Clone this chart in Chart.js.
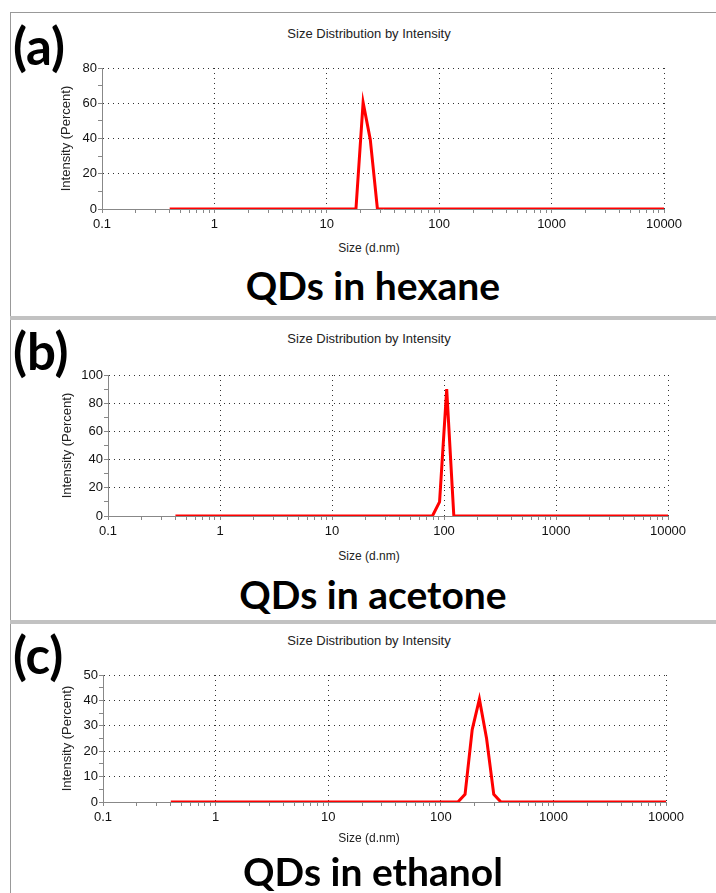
<!DOCTYPE html>
<html>
<head>
<meta charset="utf-8">
<script src="https://cdn.jsdelivr.net/npm/chart.js@4.4.0/dist/chart.umd.min.js"></script>
<style>
  body { margin: 0; background: #fff; width: 716px; height: 893px; position: relative; overflow: hidden;
         font-family: "Liberation Sans", Arial, sans-serif; color: #222; }
  .vline { position: absolute; left: 10px; top: 12px; width: 1px; height: 881px; background: #999; }
  .hline { position: absolute; left: 10px; top: 12px; width: 706px; height: 1px; background: #999; }
  .sep { position: absolute; left: 10px; width: 706px; height: 4px; background: #c2c2c2; }
  .tag { position: absolute; font-family: Lato, sans-serif; font-weight: bold; font-size: 51px; line-height: 1; color: #000; }
  .big { position: absolute; font-family: Lato, sans-serif; font-weight: bold; font-size: 39px; line-height: 1;
         transform: translate(-50%, -50%); white-space: nowrap; color: #000; }
  .small { position: absolute; font-size: 13px; line-height: 1; transform: translate(-50%, -50%); white-space: nowrap; color: #222; }
  .small.ax { font-size: 12px; }
  canvas { position: absolute; left: 0; }
</style>
</head>
<body>
<div class="hline"></div>
<div class="vline"></div>
<div class="sep" style="top:316px"></div>
<div class="sep" style="top:620px"></div>

<div class="tag" style="left:13px;top:20px">(a)</div>
<div class="small" style="left:369px;top:33px">Size Distribution by Intensity</div>
<canvas id="chartA" width="716" height="190" style="top:50px"></canvas>
<div class="small ax" style="left:369px;top:248px">Size (d.nm)</div>
<div class="big" style="left:373px;top:285px">QDs in hexane</div>

<div class="tag" style="left:13px;top:325px">(b)</div>
<div class="small" style="left:369px;top:338px">Size Distribution by Intensity</div>
<canvas id="chartB" width="716" height="190" style="top:355px"></canvas>
<div class="small ax" style="left:369px;top:556px">Size (d.nm)</div>
<div class="big" style="left:373px;top:594px">QDs in acetone</div>

<div class="tag" style="left:13px;top:629px">(c)</div>
<div class="small" style="left:369px;top:640px">Size Distribution by Intensity</div>
<canvas id="chartC" width="716" height="180" style="top:655px"></canvas>
<div class="small ax" style="left:369px;top:838px">Size (d.nm)</div>
<div class="big" style="left:373px;top:871px">QDs in ethanol</div>

<script>
// x tick labels (log axis) and minor tick multipliers
const X_TICKS = [0.1, 1, 10, 100, 1000, 10000];
const X_MINOR = [2, 3, 4, 5, 6, 7, 8, 9];

// (a) hexane
const sizesA = [0.4, 18.17, 21.04, 24.36, 28.21, 10000];
const intensityA = [0, 0, 60.5, 39.5, 0, 0];

// (b) acetone
const sizesB = [0.4, 78.82, 91.28, 105.7, 122.4, 10000];
const intensityB = [0, 0, 10, 90, 0, 0];

// (c) ethanol
const sizesC = [0.4, 141.8, 164.2, 190.1, 220.2, 255.0, 295.3, 342.0, 10000];
const intensityC = [0, 0, 3, 28.5, 40.5, 25, 3, 0, 0];

const FONT = '"Liberation Sans", Arial, sans-serif';

function makeChart(id, sizes, values, yMax, yStep, yLabelStep, g) {
  const xTicks = [];
  X_TICKS.forEach(function (t, i) {
    xTicks.push(t);
    if (i < X_TICKS.length - 1) X_MINOR.forEach(function (m) { xTicks.push(t * m); });
  });

  return new Chart(document.getElementById(id), {
    type: 'line',
    data: {
      datasets: [{
        data: sizes.map(function (s, i) { return { x: s, y: values[i] }; }),
        borderColor: '#ff0000',
        borderWidth: 3,
        pointRadius: 0,
        tension: 0,
        fill: false
      }]
    },
    options: {
      responsive: false,
      animation: false,
      layout: { padding: { top: g.top, right: g.right, bottom: 0, left: 0 } },
      plugins: { legend: { display: false }, tooltip: { enabled: false } },
      scales: {
        x: {
          type: 'logarithmic',
          min: 0.1,
          max: 10000,
          afterBuildTicks: function (s) { s.ticks = xTicks.map(function (v) { return { value: v }; }); },
          afterFit: function (s) { s.height = g.xh; },
          ticks: {
            autoSkip: false, maxRotation: 0, padding: 4, color: '#111',
            font: { size: 13, family: FONT },
            callback: function (v) { return X_TICKS.indexOf(v) >= 0 ? String(v) : ''; }
          },
          grid: {
            color: function (c) {
              return c.tick && X_TICKS.indexOf(c.tick.value) > 0 ? '#333' : 'rgba(0,0,0,0)';
            },
            tickColor: '#888', tickLength: 4, lineWidth: 1
          },
          border: { color: '#888', dash: [1, 4] }
        },
        y: {
          type: 'linear',
          min: 0,
          max: yMax,
          afterFit: function (s) { s.width = g.left; },
          ticks: {
            autoSkip: false, stepSize: yStep, padding: 1, color: '#111',
            font: { size: 13, family: FONT },
            callback: function (v) { return v % yLabelStep === 0 ? v : ''; }
          },
          grid: {
            color: function (c) {
              return c.tick && c.tick.value % yLabelStep === 0 && c.tick.value !== 0 ? '#333' : 'rgba(0,0,0,0)';
            },
            tickColor: '#888', tickLength: 4, lineWidth: 1
          },
          border: { color: '#888', dash: [1, 4] },
          title: {
            display: true, text: 'Intensity (Percent)', color: '#222',
            font: { size: 13, family: FONT },
            padding: { top: g.yTitle, bottom: 0 }
          }
        }
      }
    }
  });
}

makeChart('chartA', sizesA, intensityA, 80, 10, 20, { top: 18, right: 52, left: 102, xh: 31, yTitle: 59 });
makeChart('chartB', sizesB, intensityB, 100, 10, 20, { top: 20, right: 48, left: 108, xh: 29, yTitle: 60 });
makeChart('chartC', sizesC, intensityC, 50, 5, 10, { top: 20, right: 50, left: 103, xh: 33, yTitle: 60 });
</script>
</body>
</html>
